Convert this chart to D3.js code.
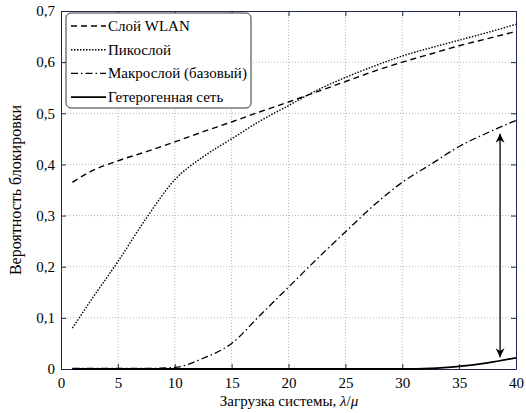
<!DOCTYPE html>
<html>
<head>
<meta charset="utf-8">
<script src="https://cdn.jsdelivr.net/npm/d3@7"></script>
<style>
  body { margin: 0; background: #fff; }
  svg { display: block; }
  svg text { font-family: "Liberation Serif", serif; }
</style>
</head>
<body>
<svg id="chart" width="526" height="413"></svg>
<script>
// load values (lambda/mu)
var loads = [1, 2.5, 5, 7.5, 10, 12.5, 15, 17.5, 20, 22.5, 25, 27.5, 30, 32.5, 35, 37.5, 40];
var wlan   = [0.365, 0.385, 0.407, 0.425, 0.444, 0.464, 0.483, 0.503, 0.522, 0.542, 0.562, 0.582, 0.600, 0.616, 0.632, 0.646, 0.660];
var pico   = [0.080, 0.130, 0.210, 0.295, 0.370, 0.415, 0.450, 0.485, 0.515, 0.545, 0.570, 0.592, 0.612, 0.628, 0.643, 0.658, 0.674];
var macro  = [0.001, 0.001, 0.001, 0.001, 0.003, 0.021, 0.050, 0.105, 0.160, 0.215, 0.268, 0.320, 0.365, 0.400, 0.435, 0.462, 0.486];
var hetero = [0, 0, 0, 0, 0, 0, 0, 0, 0, 0, 0, 0, 0, 0.001, 0.005, 0.012, 0.022];

var xTicks = [0, 5, 10, 15, 20, 25, 30, 35, 40];
var yTicks = [0, 0.1, 0.2, 0.3, 0.4, 0.5, 0.6, 0.7];

var seriesNames = ["Слой WLAN", "Пикослой", "Макрослой (базовый)", "Гетерогенная сеть"];
var seriesValues = [wlan, pico, macro, hetero];
var dashes = ["6,4", "1.5,1.5", "7,3,1.5,3", null];
var widths = [1.4, 1.4, 1.3, 1.8];

// arrow between macro and hetero layers
var arrowX = 38.6, arrowTop = 0.46, arrowBottom = 0.023;

var svg = d3.select("#chart");
var m = {left: 61, right: 10, top: 11, bottom: 44};
var W = 526 - m.left - m.right, H = 413 - m.top - m.bottom;

var x = d3.scaleLinear().domain([0, 40]).range([m.left, m.left + W]);
var y = d3.scaleLinear().domain([0, 0.7]).range([m.top + H, m.top]);

var axisColor = "#1e2850";
var fmtY = function(d) { return d === 0 ? "0" : d3.format(".1f")(d).replace(".", ","); };
var fmtX = function(d) { return String(d); };

// grid
var grid = svg.append("g");
grid.selectAll("line.gx").data(xTicks.slice(1, -1)).enter().append("line")
  .attr("x1", x).attr("x2", x).attr("y1", m.top).attr("y2", m.top + H)
  .attr("stroke", "#b4b4b4").attr("stroke-width", 1).attr("stroke-dasharray", "1,2");
grid.selectAll("line.gy").data(yTicks.slice(1, -1)).enter().append("line")
  .attr("y1", y).attr("y2", y).attr("x1", m.left).attr("x2", m.left + W)
  .attr("stroke", "#b4b4b4").attr("stroke-width", 1).attr("stroke-dasharray", "1,2");

// axes (ticks inward, box all round)
function styleAxis(g) {
  g.attr("font-family", null).attr("font-size", null);
  g.select(".domain").attr("stroke", axisColor);
  g.selectAll(".tick line").attr("stroke", axisColor);
  g.selectAll("text").attr("fill", "#000").style("font-size", "15px");
}
svg.append("g").attr("transform", "translate(0," + (m.top + H) + ")")
  .call(d3.axisBottom(x).tickValues(xTicks).tickFormat(fmtX).tickSizeInner(-5).tickSizeOuter(0).tickPadding(8))
  .call(styleAxis);
svg.append("g").attr("transform", "translate(0," + m.top + ")")
  .call(d3.axisTop(x).tickValues(xTicks).tickFormat("").tickSizeInner(-5).tickSizeOuter(0))
  .call(styleAxis);
svg.append("g").attr("transform", "translate(" + m.left + ",0)")
  .call(d3.axisLeft(y).tickValues(yTicks).tickFormat(fmtY).tickSizeInner(-5).tickSizeOuter(0).tickPadding(6))
  .call(styleAxis);
svg.append("g").attr("transform", "translate(" + (m.left + W) + ",0)")
  .call(d3.axisRight(y).tickValues(yTicks).tickFormat("").tickSizeInner(-5).tickSizeOuter(0))
  .call(styleAxis);

// lines
var line = d3.line().x(function(d) { return x(d[0]); }).y(function(d) { return y(d[1]); })
  .curve(d3.curveMonotoneX);
seriesValues.forEach(function(vals, i) {
  var pts = loads.map(function(l, j) { return [l, vals[j]]; });
  svg.append("path").datum(pts).attr("d", line)
    .attr("fill", "none").attr("stroke", "#000")
    .attr("stroke-width", widths[i])
    .attr("stroke-dasharray", dashes[i]);
});

// double arrow
svg.append("defs").append("marker")
  .attr("id", "head").attr("viewBox", "0 0 10 10").attr("refX", 10).attr("refY", 5)
  .attr("markerWidth", 17).attr("markerHeight", 9).attr("markerUnits", "userSpaceOnUse")
  .attr("orient", "auto-start-reverse")
  .append("path").attr("d", "M0,0 L10,5 L0,10 L3,5 Z").attr("fill", "#000");
svg.append("line")
  .attr("x1", x(arrowX)).attr("x2", x(arrowX))
  .attr("y1", y(arrowTop)).attr("y2", y(arrowBottom))
  .attr("stroke", "#000").attr("stroke-width", 1.3)
  .attr("marker-start", "url(#head)").attr("marker-end", "url(#head)");

// legend
var lg = svg.append("g").attr("transform", "translate(66,13)");
lg.append("rect").attr("width", 185).attr("height", 95).attr("rx", 5)
  .attr("fill", "#fff").attr("stroke", "#333").attr("stroke-width", 1);
seriesNames.forEach(function(name, i) {
  var yy = 13 + i * 23.7;
  lg.append("line").attr("x1", 5).attr("x2", 40).attr("y1", yy).attr("y2", yy)
    .attr("stroke", "#000").attr("stroke-width", widths[i]).attr("stroke-dasharray", dashes[i]);
  lg.append("text").attr("x", 42).attr("y", yy + 5).text(name)
    .style("font-size", "15px");
});

// axis labels
svg.append("text").attr("transform", "translate(21," + (m.top + H / 2) + ") rotate(-90)")
  .attr("text-anchor", "middle").style("font-size", "16px").text("Вероятность блокировки");
var xl = svg.append("text").attr("x", 289).attr("y", 406)
  .attr("text-anchor", "middle").style("font-size", "15px");
xl.append("tspan").text("Загрузка системы, ");
xl.append("tspan").style("font-style", "italic").text("λ");
xl.append("tspan").text("/");
xl.append("tspan").style("font-style", "italic").text("μ");
</script>
</body>
</html>
